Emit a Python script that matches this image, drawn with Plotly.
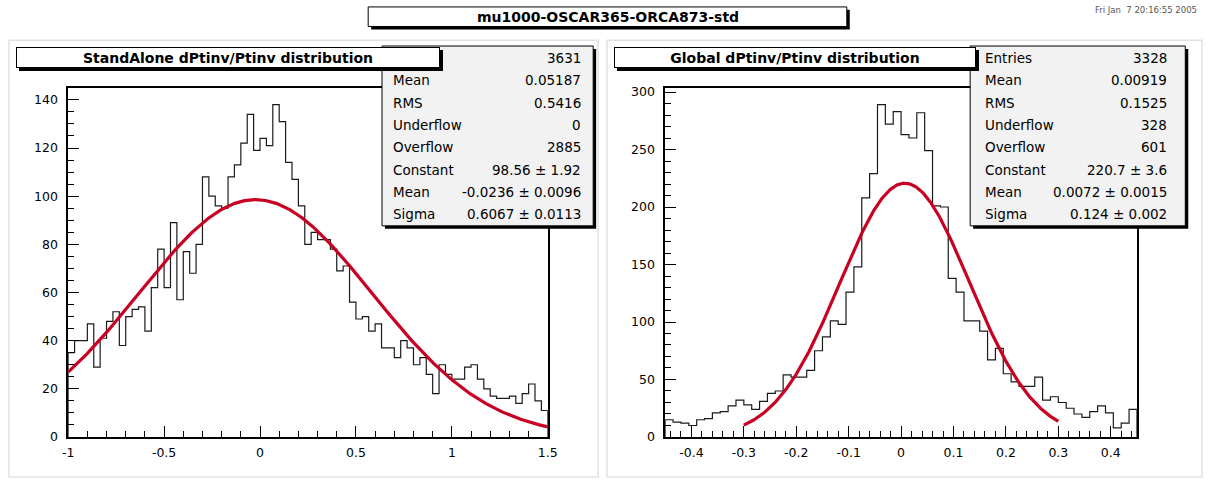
import numpy as np
import plotly.graph_objects as go

W, H = 1217, 487

canvas_title = "mu1000-OSCAR365-ORCA873-std"
canvas_date = "Fri Jan  7 20:16:55 2005"

# ---- StandAlone muons: dPtinv/Ptinv, 75 bins on [-1, 1.5]
sa_title = "StandAlone dPtinv/Ptinv distribution"
sa_xmin, sa_xmax = -1.0, 1.5
sa_counts = [35, 40, 40, 47, 29, 41, 48, 52, 38, 50,
             53, 54, 44, 62, 78, 62, 89, 57, 77, 68,
             80, 108, 100, 96, 95, 108, 113, 122, 134, 119,
             124, 121, 138, 131, 114, 107, 96, 80, 85, 82,
             82, 78, 69, 71, 56, 49, 50, 44, 47, 37,
             37, 33, 40, 37, 30, 33, 26, 18, 30, 26,
             24, 24, 29, 30, 24, 20, 17, 16, 16, 17,
             14, 18, 22, 15, 11]
sa_fit_const, sa_fit_mean, sa_fit_sigma = 98.56, -0.0236, 0.6067
sa_fit_lo, sa_fit_hi = -1.0, 1.5
sa_stat_labels = ["Entries", "Mean", "RMS", "Underflow", "Overflow",
                  "Constant", "Mean", "Sigma"]
sa_stat_values = ["3631", "0.05187", "0.5416", "0", "2885",
                  "98.56 ± 1.92", "-0.0236 ± 0.0096", "0.6067 ± 0.0113"]
sa_xtick_vals = [-1, -0.5, 0, 0.5, 1, 1.5]
sa_xtick_text = ["-1", "-0.5", "0", "0.5", "1", "1.5"]
sa_ytick_vals = [0, 20, 40, 60, 80, 100, 120, 140]
sa_xminor, sa_yminor = 0.1, 5

# ---- Global muons: dPtinv/Ptinv, 60 bins on [-0.45, 0.45]
gl_title = "Global dPtinv/Ptinv distribution"
gl_xmin, gl_xmax = -0.45, 0.45
gl_counts = [15, 13, 12, 10, 15, 16, 21, 22, 27, 32,
             28, 24, 31, 38, 40, 54, 52, 52, 58, 75,
             87, 101, 98, 126, 148, 208, 229, 289, 272, 283,
             263, 260, 282, 249, 201, 200, 138, 126, 101, 101,
             92, 67, 77, 55, 48, 44, 44, 52, 32, 35,
             30, 25, 20, 17, 22, 27, 21, 8, 12, 24]
gl_fit_const, gl_fit_mean, gl_fit_sigma = 220.7, 0.0072, 0.124
gl_fit_lo, gl_fit_hi = -0.3, 0.3
gl_stat_labels = ["Entries", "Mean", "RMS", "Underflow", "Overflow",
                  "Constant", "Mean", "Sigma"]
gl_stat_values = ["3328", "0.00919", "0.1525", "328", "601",
                  "220.7 ± 3.6", "0.0072 ± 0.0015", "0.124 ± 0.002"]
gl_xtick_vals = [-0.4, -0.3, -0.2, -0.1, 0, 0.1, 0.2, 0.3, 0.4]
gl_xtick_text = ["-0.4", "-0.3", "-0.2", "-0.1", "0", "0.1", "0.2", "0.3", "0.4"]
gl_ytick_vals = [0, 50, 100, 150, 200, 250, 300]
gl_xminor, gl_yminor = 0.02, 10

FONT = "DejaVu Sans"
HIST_COLOR = "#1a1a1a"
FIT_COLOR = "#c80021"


def fx(px):
    return px / W


def fy(py):
    return 1 - py / H


def step_xy(counts, xmin, xmax):
    edges = np.linspace(xmin, xmax, len(counts) + 1)
    xs = [edges[0]] + list(edges[:-1]) + [edges[-1]]
    ys = [0] + list(counts) + [0]
    return xs, ys


def gauss_xy(c, m, s, lo, hi):
    xs = np.linspace(lo, hi, 400)
    return xs, c * np.exp(-0.5 * ((xs - m) / s) ** 2)


fig = go.Figure()

for counts, xmin, xmax, fit, ax in [
    (sa_counts, sa_xmin, sa_xmax,
     (sa_fit_const, sa_fit_mean, sa_fit_sigma, sa_fit_lo, sa_fit_hi), ""),
    (gl_counts, gl_xmin, gl_xmax,
     (gl_fit_const, gl_fit_mean, gl_fit_sigma, gl_fit_lo, gl_fit_hi), "2"),
]:
    hx, hy = step_xy(counts, xmin, xmax)
    fig.add_trace(go.Scatter(x=hx, y=hy, mode="lines", line_shape="hv",
                             line=dict(color=HIST_COLOR, width=1.2),
                             xaxis="x" + ax, yaxis="y" + ax, hoverinfo="skip"))
    gx, gy = gauss_xy(*fit)
    fig.add_trace(go.Scatter(x=gx, y=gy, mode="lines",
                             line=dict(color=FIT_COLOR, width=3.2),
                             xaxis="x" + ax, yaxis="y" + ax, hoverinfo="skip"))


def axis(domain, rng, tvals, ttext, minor_step, anchor, standoff):
    lo, hi = rng
    start = np.ceil(lo / minor_step) * minor_step
    minor_vals = [round(v, 6) for v in np.arange(start, hi + 1e-9, minor_step)]
    return dict(domain=domain, range=list(rng), anchor=anchor,
                showgrid=False, zeroline=False,
                showline=True, mirror=True, linecolor="black", linewidth=1.5,
                ticks="inside", ticklen=11, tickwidth=1, tickcolor="black",
                tickmode="array", tickvals=tvals, ticktext=ttext,
                ticklabelstandoff=standoff,
                minor=dict(ticks="inside", ticklen=6, tickwidth=1,
                           tickcolor="black", tickmode="array",
                           tickvals=minor_vals, showgrid=False),
                tickfont=dict(family=FONT, size=12.5, color="black"))


ydom = [fy(443), fy(86)]
sa_ymax = max(sa_counts) * 1.05
gl_ymax = max(gl_counts) * 1.05

fig.update_layout(
    width=W, height=H, margin=dict(l=0, r=0, t=0, b=0),
    paper_bgcolor="white", plot_bgcolor="white", showlegend=False,
    xaxis=axis([fx(63), fx(549)], (sa_xmin, sa_xmax), sa_xtick_vals,
               sa_xtick_text, sa_xminor, "y", 3),
    yaxis=axis(ydom, (0, sa_ymax), sa_ytick_vals,
               [str(v) for v in sa_ytick_vals], sa_yminor, "x", 6),
    xaxis2=axis([fx(668), fx(1146)], (gl_xmin, gl_xmax), gl_xtick_vals,
                gl_xtick_text, gl_xminor, "y2", 3),
    yaxis2=axis(ydom, (0, gl_ymax), gl_ytick_vals,
                [str(v) for v in gl_ytick_vals], gl_yminor, "x2", 6),
)

shapes = []
annotations = []


def rect(x0, y0, x1, y1, fill, line_color=None, line_width=0):
    shapes.append(dict(type="rect", xref="paper", yref="paper", layer="above",
                       x0=fx(x0), x1=fx(x1), y0=fy(y1), y1=fy(y0),
                       fillcolor=fill,
                       line=dict(color=line_color or fill, width=line_width)))


def text(x, y, s, size, anchor="center", color="black", bold=False):
    annotations.append(dict(x=fx(x), y=fy(y), xref="paper", yref="paper",
                            text=f"<b>{s}</b>" if bold else s,
                            showarrow=False, xanchor=anchor, yanchor="middle",
                            font=dict(family=FONT, size=size, color=color)))


def pave(x0, y0, x1, y1, fill, shadow=3):
    rect(x0 + shadow, y0 + shadow, x1 + shadow, y1 + shadow, "black")
    rect(x0, y0, x1, y1, fill, "black", 1)


def title_pave(x0, y0, x1, y1, s, size, shadow=3):
    # drawn as annotations so the box sits above the statistics text
    for dx, bg, border, label in [(shadow, "black", 0, " "),
                                  (0, "white", 1, f"<b>{s}</b>")]:
        annotations.append(dict(
            x=fx(x0 + dx), y=fy(y0 + dx), xref="paper", yref="paper",
            xanchor="left", yanchor="top", showarrow=False,
            width=x1 - x0 - 2 * border, height=y1 - y0 - 2 * border,
            bgcolor=bg, bordercolor="black", borderwidth=border, borderpad=0,
            text=label, align="center", valign="middle",
            font=dict(family=FONT, size=size, color="black")))


# pad outlines
for px0, px1 in [(3, 600), (609, 1212)]:
    shapes.append(dict(type="rect", xref="paper", yref="paper", layer="below",
                       x0=fx(px0), x1=fx(px1), y0=fy(484), y1=fy(37),
                       fillcolor="white", line=dict(color="#e2e2e2", width=1.5)))

# canvas title and date
pave(367, 3, 852, 23, "white")
text(610, 13.5, canvas_title, 14, bold=True)
text(1209, 6, canvas_date, 8.5, anchor="right", color="#555")

# statistics boxes
row_y = [55 + 22.9 * i for i in range(8)]
for (bx0, bx1, lab_x, val_x, labels, values) in [
    (381, 595, 390, 585, sa_stat_labels, sa_stat_values),
    (977, 1195, 990, 1178, gl_stat_labels, gl_stat_values),
]:
    pave(bx0, 43, bx1, 227, "#f2f2f2")
    for i, (lab, val) in enumerate(zip(labels, values)):
        text(lab_x, row_y[i], lab, 13.5, anchor="left")
        text(val_x, row_y[i], val, 13.5, anchor="right")

# pad titles
title_pave(10, 44, 434, 65, sa_title, 14)
title_pave(616, 44, 978, 65, gl_title, 14)

fig.update_layout(shapes=shapes, annotations=annotations)
fig.write_html("out.html")
